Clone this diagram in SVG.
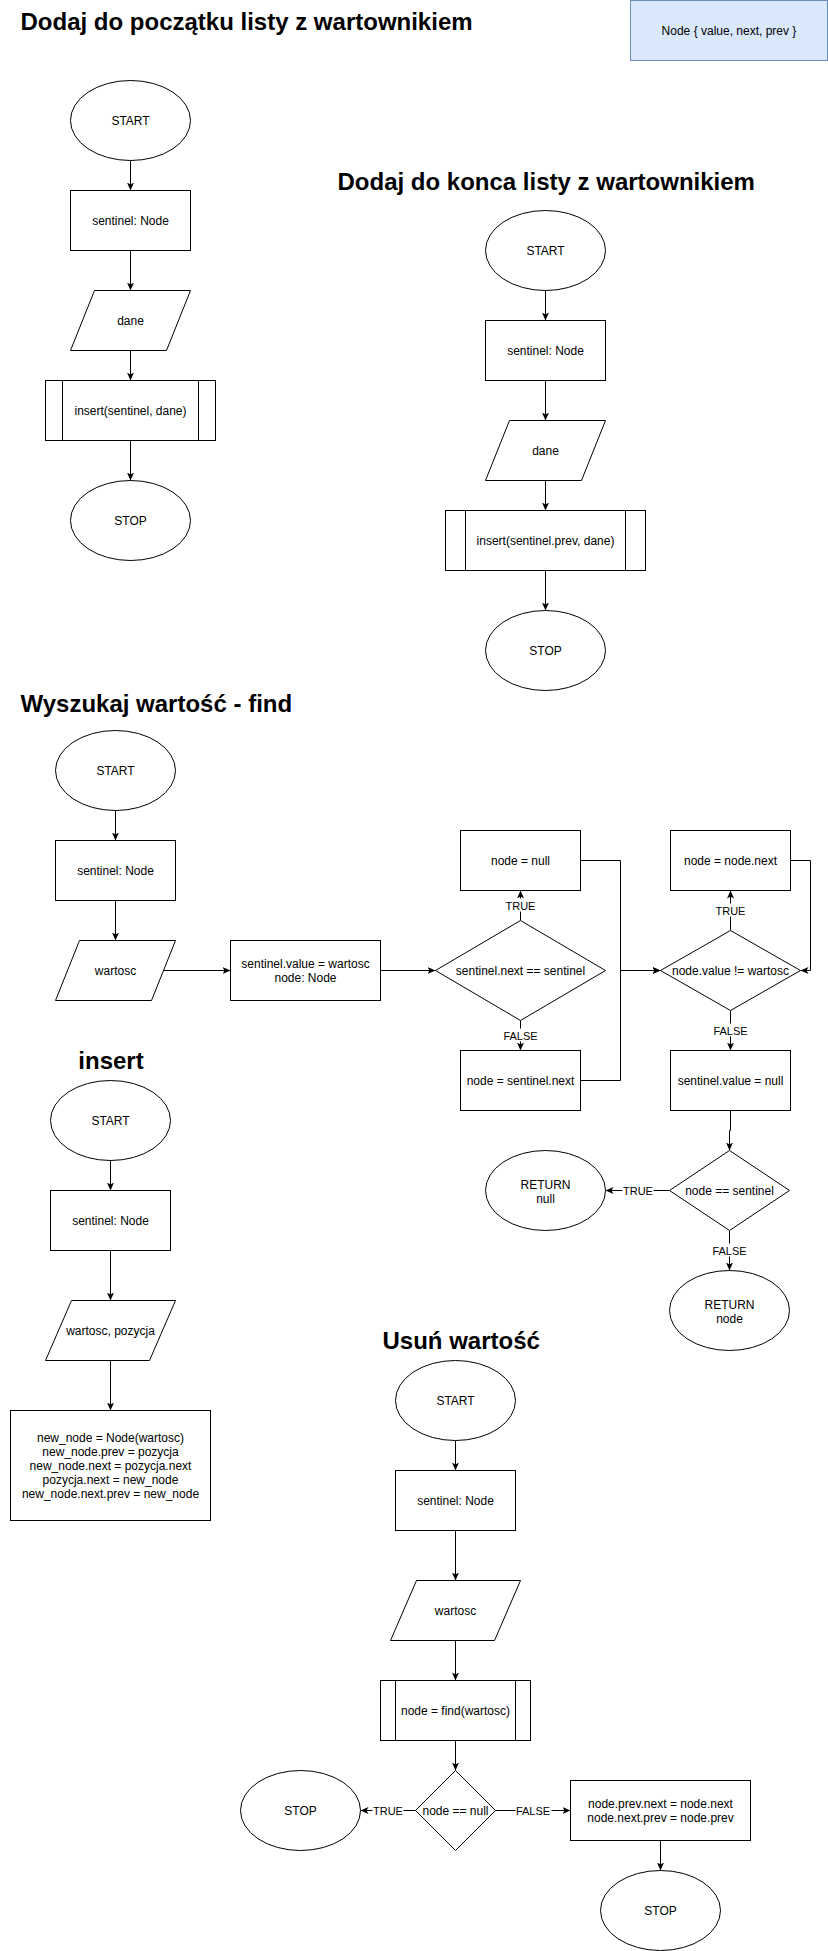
<svg xmlns="http://www.w3.org/2000/svg" width="828" height="1951" viewBox="0 0 828 1951">
<style>
.s{fill:#fff;stroke:#000;stroke-width:1}
.t{font-family:"Liberation Sans",Arial,sans-serif;font-size:12px;fill:#000;text-anchor:middle}
.h{font-family:"Liberation Sans",Arial,sans-serif;font-size:24px;font-weight:bold;fill:#000}
.e{fill:none;stroke:#000;stroke-width:1}
.l{font-family:"Liberation Sans",Arial,sans-serif;font-size:11px;fill:#000;text-anchor:middle}
.lb{fill:#fff;stroke:none}
</style>
<defs>
<marker id="a" markerUnits="userSpaceOnUse" viewBox="0 0 8 7" markerWidth="8" markerHeight="7" refX="8" refY="3.5" orient="auto">
<path d="M0,0 L8,3.5 L0,7 L2,3.5 Z" fill="#000"/>
</marker>
</defs>
<rect width="828" height="1951" fill="#fff"/>
<g transform="translate(0.5,0.5)">
<g id="titles">
<text class="h" x="20" y="29">Dodaj do początku listy z wartownikiem</text>
<text class="h" x="337" y="189">Dodaj do konca listy z wartownikiem</text>
<text class="h" x="20" y="711">Wyszukaj wartość - find</text>
<text class="h" x="110.5" y="1068" text-anchor="middle">insert</text>
<text class="h" x="382" y="1348">Usuń wartość</text>
</g>
<g id="node-def">
<rect x="630" y="0" width="197" height="60" fill="#dae8fc" stroke="#6c8ebf"/>
<text class="t" x="728.5" y="34">Node { value, next, prev }</text>
</g>
<g id="connectors">
<path class="e" d="M130,160 V190" marker-end="url(#a)"/>
<path class="e" d="M130,250 V290" marker-end="url(#a)"/>
<path class="e" d="M130,350 V380" marker-end="url(#a)"/>
<path class="e" d="M130,440 V480" marker-end="url(#a)"/>
<path class="e" d="M545,290 V320" marker-end="url(#a)"/>
<path class="e" d="M545,380 V420" marker-end="url(#a)"/>
<path class="e" d="M545,480 V510" marker-end="url(#a)"/>
<path class="e" d="M545,570 V610" marker-end="url(#a)"/>
<path class="e" d="M115,810 V840" marker-end="url(#a)"/>
<path class="e" d="M115,900 V940" marker-end="url(#a)"/>
<path class="e" d="M163,970 H230" marker-end="url(#a)"/>
<path class="e" d="M380,970 H435" marker-end="url(#a)"/>
<path class="e" d="M520,920 V890" marker-end="url(#a)"/>
<path class="e" d="M520,1020 V1050" marker-end="url(#a)"/>
<path class="e" d="M580,860 H620 V970 H660" marker-end="url(#a)"/>
<path class="e" d="M580,1080 H620 V970 H660" marker-end="url(#a)"/>
<path class="e" d="M730,930 V890" marker-end="url(#a)"/>
<path class="e" d="M790,860 H810 V970 H800" marker-end="url(#a)"/>
<path class="e" d="M730,1010 V1050" marker-end="url(#a)"/>
<path class="e" d="M730,1110 V1130 H729 V1150" marker-end="url(#a)"/>
<path class="e" d="M669,1190 H605" marker-end="url(#a)"/>
<path class="e" d="M729,1230 V1270" marker-end="url(#a)"/>
<path class="e" d="M110,1160 V1190" marker-end="url(#a)"/>
<path class="e" d="M110,1250 V1300" marker-end="url(#a)"/>
<path class="e" d="M110,1360 V1410" marker-end="url(#a)"/>
<path class="e" d="M455,1440 V1470" marker-end="url(#a)"/>
<path class="e" d="M455,1530 V1580" marker-end="url(#a)"/>
<path class="e" d="M455,1640 V1680" marker-end="url(#a)"/>
<path class="e" d="M455,1740 V1770" marker-end="url(#a)"/>
<path class="e" d="M415,1810 H360" marker-end="url(#a)"/>
<path class="e" d="M495,1810 H570" marker-end="url(#a)"/>
<path class="e" d="M660,1840 V1870" marker-end="url(#a)"/>
<g id="edge-labels">
<rect class="lb" x="505" y="898" width="31" height="13"/><text class="l" x="520" y="909">TRUE</text>
<rect class="lb" x="502" y="1028" width="36" height="13"/><text class="l" x="520" y="1039">FALSE</text>
<rect class="lb" x="715" y="903" width="31" height="13"/><text class="l" x="730" y="914">TRUE</text>
<rect class="lb" x="712" y="1023" width="36" height="13"/><text class="l" x="730" y="1034">FALSE</text>
<rect class="lb" x="622" y="1183" width="31" height="13"/><text class="l" x="637.5" y="1194">TRUE</text>
<rect class="lb" x="711" y="1243" width="36" height="13"/><text class="l" x="729" y="1254">FALSE</text>
<rect class="lb" x="372" y="1803" width="31" height="13"/><text class="l" x="387.5" y="1814">TRUE</text>
<rect class="lb" x="515" y="1803" width="36" height="13"/><text class="l" x="532.5" y="1814">FALSE</text>
</g>
</g>
<g id="s1-start"><ellipse class="s" cx="130" cy="120" rx="60" ry="40"/><text class="t" x="130" y="124">START</text></g>
<g id="s1-sentinel"><rect class="s" x="70" y="190" width="120" height="60"/><text class="t" x="130" y="224">sentinel: Node</text></g>
<g id="s1-dane"><polygon class="s" points="94,290 190,290 166,350 70,350"/><text class="t" x="130" y="324">dane</text></g>
<g id="s1-insert"><rect class="s" x="45" y="380" width="170" height="60"/><path class="e" d="M62,380 V440 M198,380 V440"/><text class="t" x="130" y="414">insert(sentinel, dane)</text></g>
<g id="s1-stop"><ellipse class="s" cx="130" cy="520" rx="60" ry="40"/><text class="t" x="130" y="524">STOP</text></g>
<g id="s2-start"><ellipse class="s" cx="545" cy="250" rx="60" ry="40"/><text class="t" x="545" y="254">START</text></g>
<g id="s2-sentinel"><rect class="s" x="485" y="320" width="120" height="60"/><text class="t" x="545" y="354">sentinel: Node</text></g>
<g id="s2-dane"><polygon class="s" points="509,420 605,420 581,480 485,480"/><text class="t" x="545" y="454">dane</text></g>
<g id="s2-insert"><rect class="s" x="445" y="510" width="200" height="60"/><path class="e" d="M465,510 V570 M625,510 V570"/><text class="t" x="545" y="544">insert(sentinel.prev, dane)</text></g>
<g id="s2-stop"><ellipse class="s" cx="545" cy="650" rx="60" ry="40"/><text class="t" x="545" y="654">STOP</text></g>
<g id="f-start"><ellipse class="s" cx="115" cy="770" rx="60" ry="40"/><text class="t" x="115" y="774">START</text></g>
<g id="f-sentinel"><rect class="s" x="55" y="840" width="120" height="60"/><text class="t" x="115" y="874">sentinel: Node</text></g>
<g id="f-wartosc"><polygon class="s" points="79,940 175,940 151,1000 55,1000"/><text class="t" x="115" y="974">wartosc</text></g>
<g id="f-init"><rect class="s" x="230" y="940" width="150" height="60"/><text class="t" x="305" y="967">sentinel.value = wartosc</text><text class="t" x="305" y="981">node: Node</text></g>
<g id="f-cond1"><polygon class="s" points="520,920 605,970 520,1020 435,970"/><text class="t" x="520" y="974">sentinel.next == sentinel</text></g>
<g id="f-null"><rect class="s" x="460" y="830" width="120" height="60"/><text class="t" x="520" y="864">node = null</text></g>
<g id="f-first"><rect class="s" x="460" y="1050" width="120" height="60"/><text class="t" x="520" y="1084">node = sentinel.next</text></g>
<g id="f-cond2"><polygon class="s" points="730,930 800,970 730,1010 660,970"/><text class="t" x="730" y="974">node.value != wartosc</text></g>
<g id="f-next"><rect class="s" x="670" y="830" width="120" height="60"/><text class="t" x="730" y="864">node = node.next</text></g>
<g id="f-reset"><rect class="s" x="670" y="1050" width="120" height="60"/><text class="t" x="730" y="1084">sentinel.value = null</text></g>
<g id="f-cond3"><polygon class="s" points="729,1150 789,1190 729,1230 669,1190"/><text class="t" x="729" y="1194">node == sentinel</text></g>
<g id="f-retnull"><ellipse class="s" cx="545" cy="1190" rx="60" ry="40"/><text class="t" x="545" y="1188">RETURN</text><text class="t" x="545" y="1202">null</text></g>
<g id="f-retnode"><ellipse class="s" cx="729" cy="1310" rx="60" ry="40"/><text class="t" x="729" y="1308">RETURN</text><text class="t" x="729" y="1322">node</text></g>
<g id="i-start"><ellipse class="s" cx="110" cy="1120" rx="60" ry="40"/><text class="t" x="110" y="1124">START</text></g>
<g id="i-sentinel"><rect class="s" x="50" y="1190" width="120" height="60"/><text class="t" x="110" y="1224">sentinel: Node</text></g>
<g id="i-input"><polygon class="s" points="71,1300 175,1300 149,1360 45,1360"/><text class="t" x="110" y="1334">wartosc, pozycja</text></g>
<g id="i-body"><rect class="s" x="10" y="1410" width="200" height="110"/>
<text class="t" x="110" y="1441">new_node = Node(wartosc)</text>
<text class="t" x="110" y="1455">new_node.prev = pozycja</text>
<text class="t" x="110" y="1469">new_node.next = pozycja.next</text>
<text class="t" x="110" y="1483">pozycja.next = new_node</text>
<text class="t" x="110" y="1497">new_node.next.prev = new_node</text></g>
<g id="u-start"><ellipse class="s" cx="455" cy="1400" rx="60" ry="40"/><text class="t" x="455" y="1404">START</text></g>
<g id="u-sentinel"><rect class="s" x="395" y="1470" width="120" height="60"/><text class="t" x="455" y="1504">sentinel: Node</text></g>
<g id="u-wartosc"><polygon class="s" points="416,1580 520,1580 494,1640 390,1640"/><text class="t" x="455" y="1614">wartosc</text></g>
<g id="u-find"><rect class="s" x="380" y="1680" width="150" height="60"/><path class="e" d="M395,1680 V1740 M515,1680 V1740"/><text class="t" x="455" y="1714">node = find(wartosc)</text></g>
<g id="u-cond"><polygon class="s" points="455,1770 495,1810 455,1850 415,1810"/><text class="t" x="455" y="1814">node == null</text></g>
<g id="u-stop1"><ellipse class="s" cx="300" cy="1810" rx="60" ry="40"/><text class="t" x="300" y="1814">STOP</text></g>
<g id="u-unlink"><rect class="s" x="570" y="1780" width="180" height="60"/><text class="t" x="660" y="1807">node.prev.next = node.next</text><text class="t" x="660" y="1821">node.next.prev = node.prev</text></g>
<g id="u-stop2"><ellipse class="s" cx="660" cy="1910" rx="60" ry="40"/><text class="t" x="660" y="1914">STOP</text></g>
</g>
</svg>
